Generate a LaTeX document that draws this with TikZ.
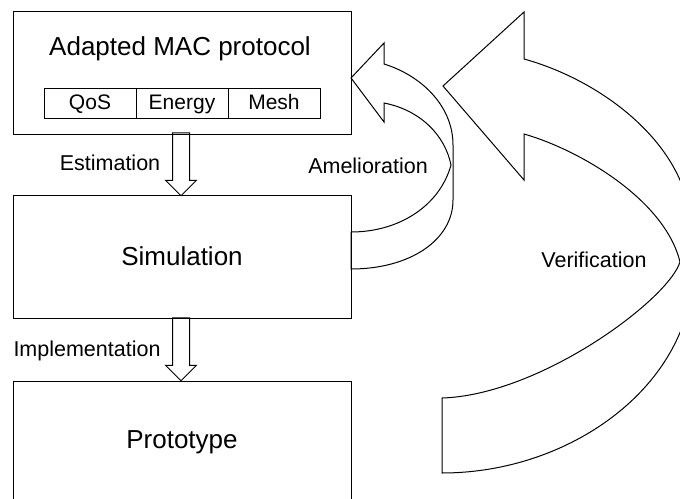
\documentclass[tikz,border=0pt]{standalone}
\usepackage{fontspec}
\setmainfont{Liberation Sans}
\usepackage{tikz}
\usetikzlibrary{positioning}
\usetikzlibrary{shapes.arrows}

\begin{document}
\begin{tikzpicture}[x=1pt,y=-1pt,line width=1pt,node distance=60pt,
	stage/.style={draw,minimum width=338pt,minimum height=123pt,inner sep=0pt,outer sep=0pt,font=\fontsize{26}{30}\selectfont},
	cell/.style={draw,minimum width=92pt,minimum height=30pt,inner sep=0pt,outer sep=0pt,text height=15pt,text depth=3pt,font=\fontsize{21}{25}\selectfont},
	flow arrow/.style={draw,single arrow,single arrow head extend=7pt,single arrow head indent=0pt,minimum width=31pt,minimum height=63pt,inner xsep=0pt,inner ysep=8pt,rotate=-90},
	caption/.style={anchor=base,font=\fontsize{21.5}{25}\selectfont}]

	\useasboundingbox (0,0) rectangle (680,498);
	\clip (0,0) rectangle (680,498);

	\node[stage] (mac) at (182,72.5) {};
	\node[anchor=base,font=\fontsize{26}{30}\selectfont] (title) at (180,55) {Adapted MAC protocol};
	\node[cell] (energy) at (182,103) {Energy};
	\node[cell] (qos) [left=0pt of energy] {QoS};
	\node[cell] (mesh) [right=0pt of energy] {Mesh};

	\node[stage] (sim) [below=61pt of mac] {Simulation};
	\node[stage] (proto) [below=63pt of sim] {Prototype};

	\node[flow arrow] (estimate) at (181,160) {};
	\node[flow arrow] (implement) at (181,345) {};

	\node[caption] (estlabel) at (110,170) {Estimation};
	\node[caption] (impllabel) at (87,356) {Implementation};
	\node[caption] (amellabel) at (368,173) {Amelioration};
	\node[caption] (veriflabel) at (594,267) {Verification};

	\draw (351,78) -- (384,43) -- (384,64) .. controls (420,75) and (453,105) .. (453,145) -- (453,200)
		.. controls (453,240) and (410,269) .. (351,269) -- (351,232)
		.. controls (400,232) and (440,205) .. (451,165) .. controls (445,135) and (420,110) .. (384,103)
		-- (384,122) -- cycle;

	\draw (443,86) -- (524,12) -- (524,59) .. controls (600,80) and (680,140) .. (690,215) -- (690,300)
		.. controls (670,400) and (560,473) .. (442,473) -- (442,398)
		.. controls (540,395) and (668,300) .. (680,262) .. controls (665,200) and (580,150) .. (524,134)
		-- (524,180) -- cycle;
\end{tikzpicture}
\end{document}
